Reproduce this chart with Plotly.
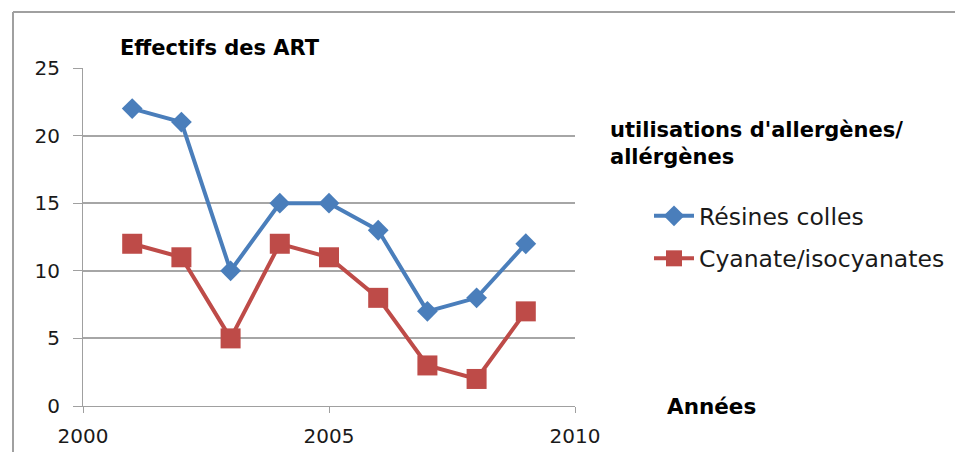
import plotly.graph_objects as go

years = [2001, 2002, 2003, 2004, 2005, 2006, 2007, 2008, 2009]
resines_colles = [22, 21, 10, 15, 15, 13, 7, 8, 12]
cyanates = [12, 11, 5, 12, 11, 8, 3, 2, 7]
x_ticks = [2000, 2005, 2010]
y_ticks = [0, 5, 10, 15, 20, 25]

FONT = "DejaVu Sans"
OFF = 8  # page body margin
W, H = 963 - OFF, 452 - OFF
PL, PR, PT, PB = 83, 575, 68, 406  # plot area in page coordinates
PW, PH = PR - PL, PB - PT


def px(x):
    return (x - PL) / PW


def py(y):
    return (PB - y) / PH


fig = go.Figure()
fig.add_trace(go.Scatter(
    x=years, y=resines_colles, name="Résines colles", mode="lines+markers",
    legendgroup="a",
    line=dict(color="#4A7EBB", width=4),
    marker=dict(symbol="diamond", size=16, color="#4A7EBB"),
))
fig.add_trace(go.Scatter(
    x=years, y=cyanates, name="Cyanate/isocyanates", mode="lines+markers",
    legendgroup="b",
    line=dict(color="#BE4B48", width=4),
    marker=dict(symbol="square", size=20, color="#BE4B48"),
))

fig.update_layout(
    width=W, height=H,
    margin=dict(l=PL - OFF, r=W - (PR - OFF), t=PT - OFF, b=H - (PB - OFF),
                autoexpand=False),
    paper_bgcolor="white", plot_bgcolor="white",
    font=dict(family=FONT, size=19, color="#1a1a1a"),
    showlegend=True,
    legend=dict(
        x=px(649), y=py(194), xanchor="left", yanchor="top",
        font=dict(family=FONT, size=23.5, color="#1a1a1a"),
        tracegroupgap=9, itemwidth=40, bgcolor="rgba(0,0,0,0)",
    ),
    xaxis=dict(
        range=[2000, 2010], tickvals=x_ticks, ticks="outside", ticklen=6,
        tickcolor="#A0A0A0", showline=True, linecolor="#A0A0A0", linewidth=1,
        showgrid=False, zeroline=False, tickfont=dict(size=20),
        ticklabelstandoff=6, automargin=False,
    ),
    yaxis=dict(
        range=[0, 25], tickvals=y_ticks, ticks="outside", ticklen=9,
        tickcolor="#A0A0A0", showline=True, linecolor="#A0A0A0", linewidth=1,
        showgrid=True, gridcolor="#A6A6A6", gridwidth=1.5, zeroline=False,
        tickfont=dict(size=20), ticklabelstandoff=9, automargin=False,
    ),
    annotations=[
        dict(text="<b>Effectifs des ART</b>", xref="paper", yref="paper",
             x=px(118), y=py(48), xanchor="left", yanchor="middle",
             showarrow=False, font=dict(family=FONT, size=21, color="black")),
        dict(text="<b>utilisations d'allergènes/<br>allérgènes</b>", xref="paper", yref="paper",
             x=px(608), y=py(143), xanchor="left", yanchor="middle",
             align="left", showarrow=False,
             font=dict(family=FONT, size=21, color="black")),
        dict(text="<b>Années</b>", xref="paper", yref="paper",
             x=px(665), y=py(406), xanchor="left", yanchor="middle",
             showarrow=False, font=dict(family=FONT, size=21.5, color="black")),
    ],
    shapes=[
        dict(type="line", xref="paper", yref="paper", x0=px(13), x1=px(970),
             y0=py(12), y1=py(12), line=dict(color="#A0A0A0", width=2)),
        dict(type="line", xref="paper", yref="paper", x0=px(13), x1=px(13),
             y0=py(12), y1=py(470), line=dict(color="#A0A0A0", width=2)),
    ],
)

fig.write_html("out.html")
